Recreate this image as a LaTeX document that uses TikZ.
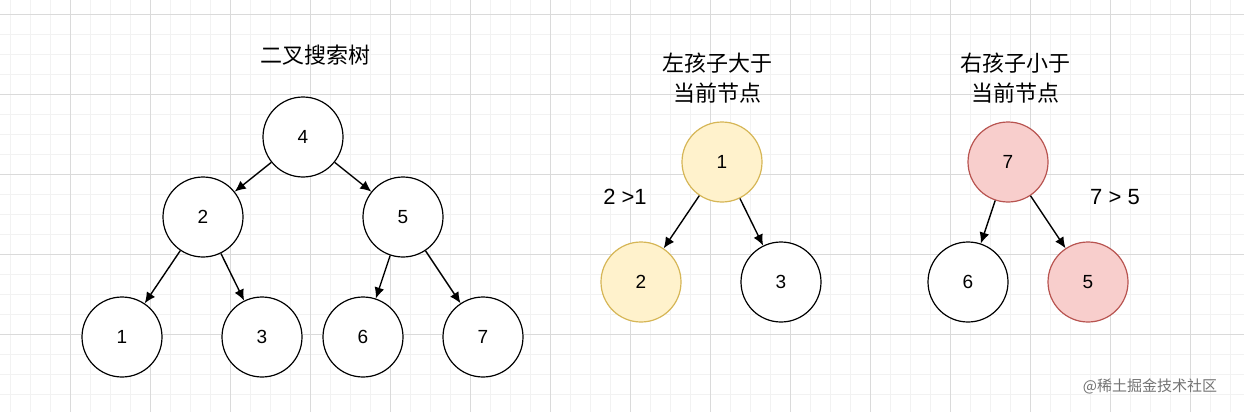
\documentclass[tikz,border=0pt]{standalone}
\usepackage{fontspec}
\setmainfont{Liberation Sans}
\newfontfamily\cjk{Noto Sans CJK SC}
\usetikzlibrary{arrows.meta}
\definecolor{minorg}{HTML}{F2F2F2}
\definecolor{majorg}{HTML}{DADADA}
\definecolor{yfill}{HTML}{FFF2CC}
\definecolor{ydraw}{HTML}{D6B656}
\definecolor{rfill}{HTML}{F8CECC}
\definecolor{rdraw}{HTML}{B85450}
\tikzset{
  tn/.style={circle,draw=black,line width=1.2pt,fill=white,minimum size=80pt,inner sep=0pt,font=\fontsize{19}{19}\selectfont},
  yn/.style={tn,fill=yfill,draw=ydraw},
  rn/.style={tn,fill=rfill,draw=rdraw},
  ed/.style={line width=1.4pt,-{Latex[length=11pt,width=10pt]}},
  ttl/.style={font=\cjk\fontsize{22}{30}\selectfont,align=center},
  lbl/.style={font=\fontsize{22}{22}\selectfont}
}
\begin{document}
\begin{tikzpicture}[x=1pt,y=-1pt]
\useasboundingbox (0,0) rectangle (1244,412);
\fill[white] (0,0) rectangle (1244,412);
\foreach \x in {10,30,...,1244} \draw[minorg,line width=0.8pt] (\x,0) -- (\x,412);
\foreach \y in {14,34,...,412} \draw[minorg,line width=0.8pt] (0,\y) -- (1244,\y);
\foreach \x in {70,150,...,1244} \draw[majorg,line width=0.8pt] (\x,0) -- (\x,412);
\foreach \y in {14,94,...,412} \draw[majorg,line width=0.8pt] (0,\y) -- (1244,\y);

\node[ttl] (t1) at (315,55) {二叉搜索树};
\node[tn] (n4) at (303,137) {4};
\node[tn] (n2) at (203,217) {2};
\node[tn] (n5) at (403,217) {5};
\node[tn] (n1) at (122,337) {1};
\node[tn] (n3) at (262,337) {3};
\node[tn] (n6) at (363,337) {6};
\node[tn] (n7) at (483,337) {7};
\draw[ed] (n4) -- (n2); \draw[ed] (n4) -- (n5);
\draw[ed] (n2) -- (n1); \draw[ed] (n2) -- (n3);
\draw[ed] (n5) -- (n6); \draw[ed] (n5) -- (n7);

\node[ttl] (t2) at (717,78) {左孩子大于\\当前节点};
\node[yn] (b1) at (722,162) {1};
\node[yn] (b2) at (641,282) {2};
\node[tn] (b3) at (781,282) {3};
\draw[ed] (b1) -- (b2); \draw[ed] (b1) -- (b3);
\node[lbl] (l2) at (625,197) {2 >1};

\node[ttl] (t3) at (1015,78) {右孩子小于\\当前节点};
\node[rn] (c7) at (1008,162) {7};
\node[tn] (c6) at (968,282) {6};
\node[rn] (c5) at (1088,282) {5};
\draw[ed] (c7) -- (c6); \draw[ed] (c7) -- (c5);
\node[lbl] (l3) at (1115,197) {7 > 5};

\node[font=\cjk\fontsize{15}{15}\selectfont,text=black!55] (wm) at (1150,386) {@稀土掘金技术社区};
\end{tikzpicture}
\end{document}
